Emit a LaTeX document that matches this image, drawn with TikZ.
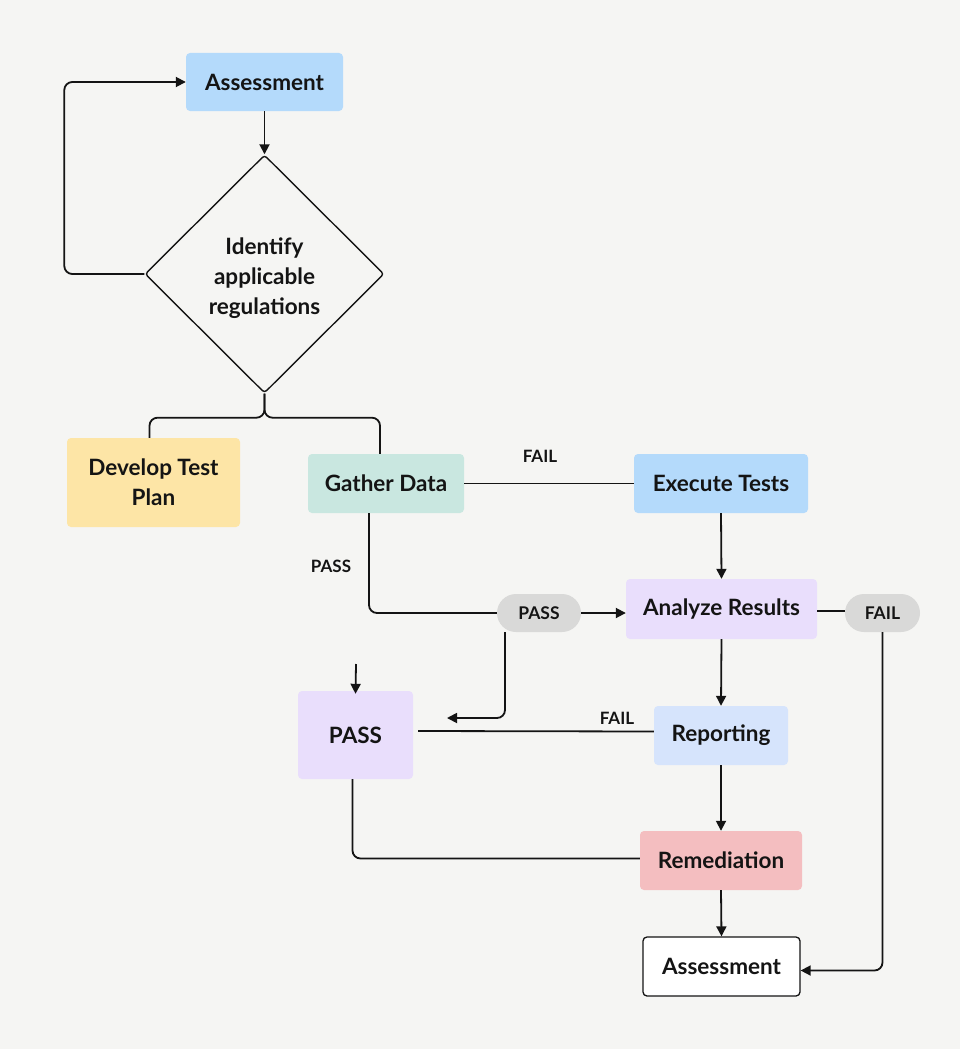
\documentclass[tikz,border=0pt]{standalone}
\usepackage{fontspec}
\setmainfont{Lato}
\usetikzlibrary{shapes.geometric,arrows.meta,calc}
\definecolor{bg}{HTML}{F5F5F3}
\definecolor{cblue}{HTML}{B4DAFB}
\definecolor{cyellow}{HTML}{FDE5A6}
\definecolor{cteal}{HTML}{C9E7E0}
\definecolor{clav}{HTML}{E9DEFC}
\definecolor{crep}{HTML}{D6E4FC}
\definecolor{cred}{HTML}{F4BEC0}
\definecolor{cpill}{HTML}{D9D9D8}
\definecolor{ink}{HTML}{141414}
\tikzset{
  box/.style={rectangle, rounded corners=4pt, inner sep=0pt, align=center, font=\fontsize{22.5}{30}\selectfont\bfseries, text=ink},
  pill/.style={rectangle, rounded corners=19pt, inner sep=0pt, fill=cpill, minimum height=38pt, font=\fontsize{17.5}{20}\selectfont\bfseries, text=ink},
  lbl/.style={font=\fontsize{17}{20}\selectfont\bfseries, text=ink, inner sep=0pt},
  ln/.style={draw=ink, line width=1.8pt, rounded corners=8pt},
  arr/.style={ln, -{Triangle[length=10pt,width=10pt]}}
}
\begin{document}
\begin{tikzpicture}[x=1pt,y=-1pt]
\fill[bg] (0,0) rectangle (960,1049);
\useasboundingbox (0,0) rectangle (960,1049);

\node[box, fill=cblue, minimum width=157pt, minimum height=58pt] (a1) at (264.5,82) {Assessment};
\node[diamond, draw=ink, line width=1.4pt, fill=bg, rounded corners=3pt, minimum width=239pt, minimum height=238pt, inner sep=0pt] (d) at (264.5,274) {};
\node[align=center, inner sep=0pt, font=\fontsize{22.5}{30}\selectfont\bfseries, text=ink] (dtext) at (264.5,278) {Identify\\applicable\\regulations};
\node[box, fill=cyellow, minimum width=173pt, minimum height=89pt] (dev) at (153.5,482.5) {Develop Test\\Plan};
\node[box, fill=cteal, minimum width=156pt, minimum height=59pt] (gather) at (386,483.5) {Gather Data};
\node[box, fill=cblue, minimum width=174pt, minimum height=59pt] (exec) at (721,483.5) {Execute Tests};
\node[box, fill=clav, minimum width=191pt, minimum height=60pt] (analyze) at (721.5,609) {Analyze Results};
\node[pill, minimum width=84pt] (ppill) at (539,613) {PASS};
\node[pill, minimum width=75pt] (fpill) at (882.5,613) {FAIL};
\node[box, fill=clav, minimum width=115pt, minimum height=88pt] (passbox) at (355.5,735) {PASS};
\node[box, fill=crep, minimum width=134pt, minimum height=59pt] (rep) at (721,735.5) {Reporting};
\node[box, fill=cred, minimum width=162pt, minimum height=59pt] (rem) at (721,860.5) {Remediation};
\node[box, draw=ink, line width=1.3pt, fill=white, minimum width=157pt, minimum height=59pt] (a2) at (721.5,966.5) {Assessment};

\node[lbl] (lfail1) at (540,456) {FAIL};
\node[lbl] (lpass1) at (331,566) {PASS};
\node[lbl] (lfail2) at (617,718) {FAIL};

\coordinate (pa) at (447,718);
\coordinate (pt) at (356,664);

\draw[arr] (a1) -- (d.north);
\draw[arr] (d.west) -- ++(-80,0) |- (a1.west);
\draw[ln] (d.south) -- ++(0,24) -| ([xshift=-4pt]dev.north);
\draw[ln] (d.south) -- ++(0,24) -| ([xshift=-6pt]gather.north);
\draw[ln] (gather.east) -- (exec.west);
\draw[arr] (exec.south) -- (analyze.north);
\draw[ln] ([xshift=-17pt]gather.south) |- (ppill.west);
\draw[arr] (ppill.east) -- (ppill.east -| analyze.west);
\draw[arr] ([xshift=-34pt]ppill.south) |- (pa);
\draw[ln] ([yshift=-2pt]analyze.east) -- ([yshift=-2pt]analyze.east -| fpill.west);
\draw[arr] (fpill.south) |- ([yshift=-4pt]a2.east);
\draw[arr] (analyze.south) -- (rep.north);
\draw[ln] ([yshift=4pt]rep.west) -- ([yshift=4pt,xshift=5pt]passbox.east);
\draw[arr] (pt) -- ([yshift=-3pt]passbox.north);
\draw[arr] (rep.south) -- (rem.north);
\draw[ln] ([xshift=-3pt]passbox.south) |- ([yshift=2pt]rem.west);
\draw[arr] (rem.south) -- (a2.north);
\end{tikzpicture}
\end{document}
